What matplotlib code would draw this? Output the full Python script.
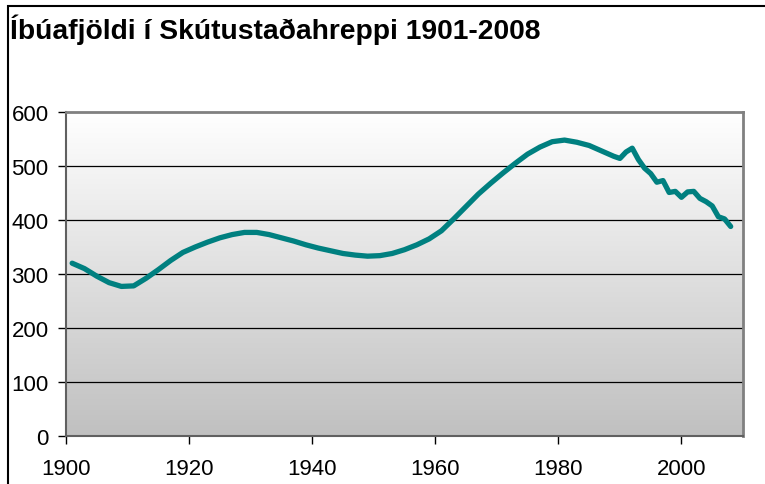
import numpy as np
import matplotlib.pyplot as plt
from matplotlib.patches import Rectangle

# Íbúafjöldi - lesið af myndinni
years = [1901, 1903, 1905, 1907, 1909, 1911, 1913, 1915, 1917, 1919,
         1921, 1923, 1925, 1927, 1929, 1931, 1933, 1935, 1937, 1939,
         1941, 1943, 1945, 1947, 1949, 1951, 1953, 1955, 1957, 1959,
         1961, 1963, 1965, 1967, 1969, 1971, 1973, 1975, 1977, 1979,
         1981, 1983, 1985, 1987, 1989, 1990, 1991, 1992, 1993, 1994,
         1995, 1996, 1997, 1998, 1999, 2000, 2001, 2002, 2003, 2004,
         2005, 2006, 2007, 2008]
population = [320, 310, 296, 284, 277, 278, 292, 308, 325, 340,
              350, 359, 367, 373, 377, 377, 373, 367, 361, 354,
              348, 343, 338, 335, 333, 334, 338, 345, 354, 365,
              380, 402, 425, 448, 468, 487, 505, 522, 535, 545,
              548, 544, 538, 528, 518, 514, 526, 533, 512, 496,
              486, 470, 473, 451, 453, 442, 452, 453, 440, 434,
              426, 406, 402, 388]

title = 'Íbúafjöldi í Skútustaðahreppi 1901-2008'
xticks = [1900, 1920, 1940, 1960, 1980, 2000]
yticks = [0, 100, 200, 300, 400, 500, 600]

plt.rcParams['font.family'] = ['Liberation Sans', 'DejaVu Sans']

fig = plt.figure(figsize=(7.65, 4.85), dpi=100)
W, H = 765, 485
ax = fig.add_axes([66 / W, 1 - 437 / H, (743 - 66) / W, (437 - 113) / H])

# bakgrunnur með litbrigðum (hvítt efst, grátt neðst)
grad = np.linspace(0, 1, 256).reshape(-1, 1)
ax.imshow(grad, extent=[0, 1, 0, 1], transform=ax.transAxes, aspect='auto',
          cmap=plt.matplotlib.colors.LinearSegmentedColormap.from_list(
              'g', ['#ffffff', '#c0c0c0']), zorder=0)

for y in yticks[1:-1]:
    ax.axhline(y, color='black', lw=0.9, zorder=1)

ax.plot(years, population, color='#008080', lw=3.8, solid_capstyle='round',
        solid_joinstyle='round', zorder=3)

ax.set_xlim(1900, 2010)
ax.set_ylim(0, 600)
ax.set_xticks(xticks)
ax.set_yticks(yticks)
ax.tick_params(direction='out', length=5.5, width=1, color='black',
               labelsize=16, pad=7)
ax.tick_params(axis='x', pad=10.5)
for side in ['top', 'right']:
    ax.spines[side].set_color('#808080')
    ax.spines[side].set_linewidth(2)
for side in ['left', 'bottom']:
    ax.spines[side].set_color('#606060')
    ax.spines[side].set_linewidth(1.5)

fig.text(10 / W, 1 - 39 / H, title, fontsize=20.3, fontweight='bold',
         ha='left', va='baseline')

# rammi utan um myndina
fig.patches.append(Rectangle((8 / W, -0.05), 1.1, 1 - 7 / H + 0.05,
                             transform=fig.transFigure, fill=False,
                             edgecolor='black', lw=1.5))

fig.savefig('out.png', dpi=100)
